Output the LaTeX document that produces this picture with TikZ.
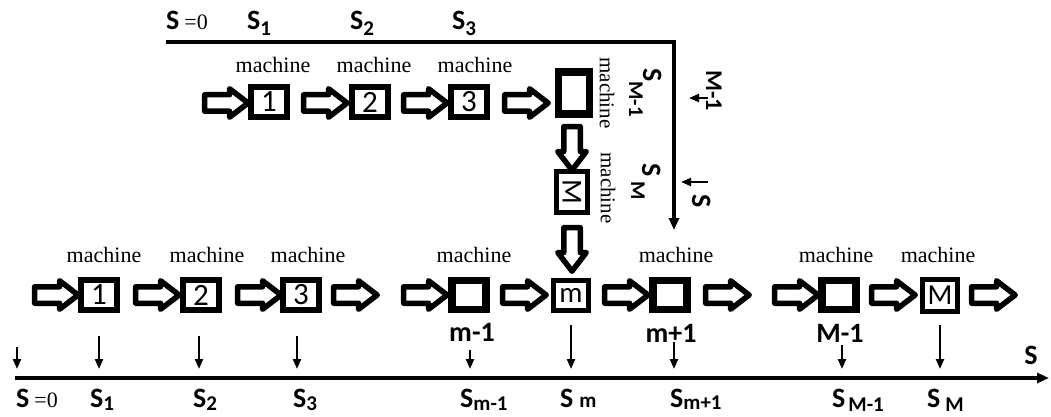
\documentclass[tikz,border=0pt]{standalone}
\usepackage{fontspec}
\setmainfont{Liberation Serif}
\newfontfamily\carl{Carlito}
\usetikzlibrary{shapes.arrows,arrows.meta}
\newcommand\Ssub[2]{\raisebox{-#1}{\fontsize{21}{21}\selectfont #2}}
\newcommand\eqz{{\rmfamily\mdseries\fontsize{22}{22}\selectfont =0}}
\begin{document}
\begin{tikzpicture}[x=1pt,y=-1pt,
  barrow/.style={single arrow, draw, fill=white, line width=5.5pt, minimum height=43.5pt, inner xsep=0pt, inner ysep=5.5pt, single arrow head extend=6pt, single arrow tip angle=75, line join=round},
  varrow/.style={barrow, shape border rotate=270, inner xsep=5.5pt, inner ysep=0pt},
  numbox/.style={draw, line width=6.5pt, minimum width=36pt, minimum height=30pt, inner sep=0pt, font=\carl\fontsize{31}{31}\selectfont},
  ebox/.style={draw, line width=7.5pt, minimum width=34pt, minimum height=29pt, inner sep=0pt},
  lbox/.style={draw, line width=5pt, minimum width=34.5pt, minimum height=30pt, inner sep=0pt, font=\carl\fontsize{29}{29}\selectfont},
  mach/.style={font=\fontsize{22}{22}\selectfont, inner sep=0pt, anchor=base},
  rmach/.style={font=\fontsize{21}{21}\selectfont, inner sep=0pt, rotate=-90},
  slab/.style={font=\carl\bfseries\fontsize{28}{28}\selectfont, inner sep=0pt, anchor=base west},
  ilab/.style={font=\carl\bfseries\fontsize{28}{28}\selectfont, inner sep=0pt},
  axis/.style={line width=3.2pt, -{Triangle[length=12pt,width=10pt]}},
  tick/.style={line width=2.2pt, -{Triangle[length=10pt,width=8pt]}},
]
\useasboundingbox (0,0) rectangle (1051,417);

% ---------- top part ----------
\coordinate (tl0) at (166,42);
\coordinate (tl1) at (674,42);
\coordinate (tl2) at (674,230);
\draw[axis] (tl0) -- (tl1) -- (tl2);

\node[slab] (t0) at (166,30) {S\hspace{5pt}\eqz};
\node[slab] (t1) at (247,30) {S\Ssub{6pt}{1}};
\node[slab] (t2) at (350,30) {S\Ssub{6pt}{2}};
\node[slab] (t3) at (452,30) {S\Ssub{6pt}{3}};

\node[mach] (tm1) at (273,73) {machine};
\node[mach] (tm2) at (374,73) {machine};
\node[mach] (tm3) at (475,73) {machine};

\node[barrow] (ta0) at (221,103) {};
\node[numbox] (tb1) at (269,102) {1};
\node[barrow] (ta1) at (320,103) {};
\node[numbox] (tb2) at (370,102) {2};
\node[barrow] (ta2) at (420,103) {};
\node[numbox] (tb3) at (469,102) {3};
\node[barrow] (ta3) at (521,103) {};
\node[ebox, minimum width=31pt, minimum height=42pt] (tbM1) at (574,93) {};
\node[varrow] (tv1) at (572,143) {};
\node[lbox, minimum width=30.5pt, minimum height=40.5pt] (tbM) at (572,192) {\rotatebox{-90}{M}};
\node[varrow] (tv2) at (572,244) {};

\node[rmach] (rm1) at (607,93) {machine};
\node[rmach] (rm2) at (608,188) {machine};

\node[slab, rotate=-90] (sM1) at (643,68) {S\Ssub{14pt}{M-1}};
\node[slab, rotate=-90] (sM) at (642,163) {S\hspace{5pt}\Ssub{11pt}{M}};

\coordinate (ra1) at (708,98);
\coordinate (ra1e) at (689,98);
\draw[tick] (ra1) -- (ra1e);
\node[slab, rotate=-90, font=\carl\bfseries\fontsize{24}{24}\selectfont] (rM1) at (706,70) {M-1};
\coordinate (ra2) at (708,182);
\coordinate (ra2e) at (681,182);
\draw[tick] (ra2) -- (ra2e);
\node[slab, rotate=-90] (rS) at (692,194) {S};

% ---------- bottom part ----------
\node[mach] (bm1) at (104,262) {machine};
\node[mach] (bm2) at (207,262) {machine};
\node[mach] (bm3) at (308,262) {machine};
\node[mach] (bm4) at (474,262) {machine};
\node[mach] (bm5) at (676,262) {machine};
\node[mach] (bm6) at (836,262) {machine};
\node[mach] (bm7) at (938,262) {machine};

\node[barrow] (ba0) at (51,295) {};
\node[numbox] (bb1) at (99,295) {1};
\node[barrow] (ba1) at (152,295) {};
\node[numbox] (bb2) at (201,295) {2};
\node[barrow] (ba2) at (254,295) {};
\node[numbox] (bb3) at (301,295) {3};
\node[barrow] (ba3) at (350,295) {};
\node[barrow] (ba4) at (420,295) {};
\node[ebox] (bbm1) at (469,295) {};
\node[barrow] (ba5) at (519,295) {};
\node[lbox] (bbm) at (571,295) {m};
\node[barrow] (ba6) at (621,295) {};
\node[ebox] (bbmp) at (670,295) {};
\node[barrow] (ba7) at (722,295) {};
\node[barrow] (ba8) at (791,295) {};
\node[ebox] (bbM1) at (839,295) {};
\node[barrow] (ba9) at (888,295) {};
\node[lbox, minimum height=32pt] (bbM) at (940,295) {M};
\node[barrow] (ba10) at (988,295) {};

\node[ilab] (lm1) at (472,332) {m-1};
\node[ilab] (lmp) at (671,333) {m+1};
\node[ilab] (lM1) at (840,333) {M-1};

\coordinate (ax0) at (15,378);
\coordinate (ax1) at (1049,378);
\draw[axis] (ax0) -- (ax1);
\node[slab, anchor=center] (axS) at (1031,355) {S};

\foreach \n/\x/\ya in {d0/17/347, d1/99/336, d2/199/336, d3/297/336, dm1/470/350, dm/571/325, dmp/674/342, dM1/842/345, dM/940/325}{
  \coordinate (\n s) at (\x,\ya);
  \coordinate (\n e) at (\x,369);
  \draw[tick] (\n s) -- (\n e);
}

\node[slab] (s0) at (16,407) {S\hspace{5pt}\eqz};
\node[slab] (s1) at (90,407) {S\Ssub{3pt}{1}};
\node[slab] (s2) at (193,407) {S\Ssub{3pt}{2}};
\node[slab] (s3) at (293,407) {S\Ssub{3pt}{3}};
\node[slab] (sm1) at (460,407) {S\Ssub{3pt}{m-1}};
\node[slab] (sm) at (560,407) {S\hspace{6pt}\Ssub{0pt}{m}};
\node[slab] (smp) at (670,407) {S\Ssub{2pt}{m+1}};
\node[slab] (sMM1) at (832,407) {S\hspace{3pt}\Ssub{4pt}{M-1}};
\node[slab] (sMM) at (927,407) {S\hspace{5pt}\Ssub{4pt}{M}};
\end{tikzpicture}
\end{document}
